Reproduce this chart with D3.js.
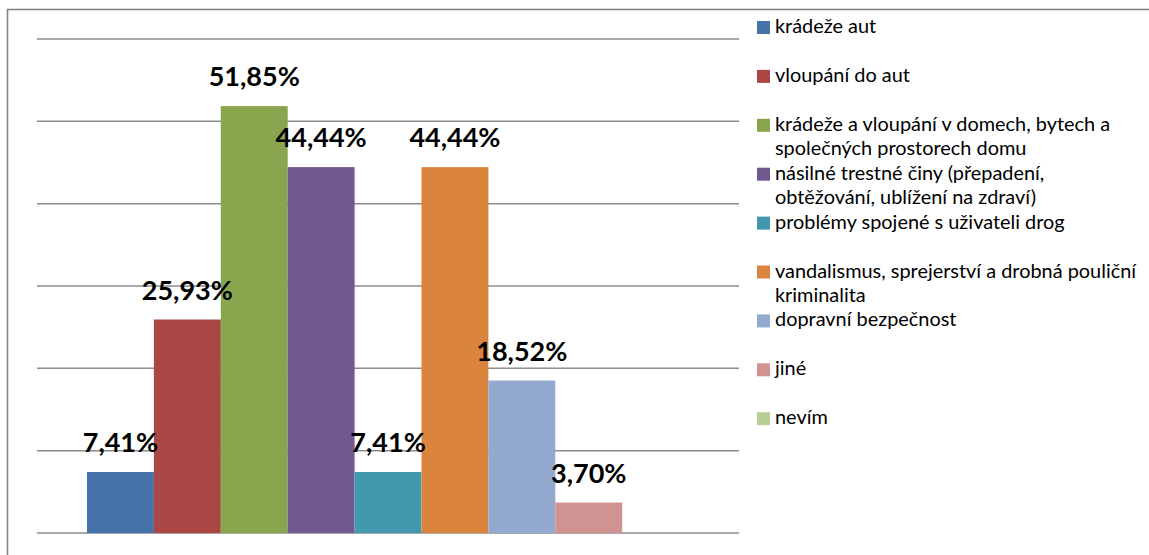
<!DOCTYPE html>
<html><head><meta charset="utf-8">
<script src="https://cdn.jsdelivr.net/npm/d3@7"></script>
<style>body{margin:0;background:#fff}svg{display:block}</style>
</head><body>
<svg id="c" width="1149" height="555"></svg>
<script>
const categories = ["krádeže aut","vloupání do aut","krádeže a vloupání v domech, bytech a společných prostorech domu","násilné trestné činy (přepadení, obtěžování, ublížení na zdraví)","problémy spojené s uživateli drog","vandalismus, sprejerství a drobná pouliční kriminalita","dopravní bezpečnost","jiné","nevím"];
const legendLines = [["krádeže aut"],["vloupání do aut"],["krádeže a vloupání v domech, bytech a","společných prostorech domu"],["násilné trestné činy (přepadení,","obtěžování, ublížení na zdraví)"],["problémy spojené s uživateli drog"],["vandalismus, sprejerství a drobná pouliční","kriminalita"],["dopravní bezpečnost"],["jiné"],["nevím"]];
const values = [7.41,25.93,51.85,44.44,7.41,44.44,18.52,3.70,0];
const labels = ["7,41%","25,93%","51,85%","44,44%","7,41%","44,44%","18,52%","3,70%",""];
const yTicks = [0,10,20,30,40,50,60];
const colors = ["#4572A7","#AA4643","#89A54E","#71588F","#4198AF","#DB843D","#93A9CF","#D19392","#B9CD96"];

const svg = d3.select("#c");
svg.append("rect").attr("x",7.5).attr("y",9.5).attr("width",1160).attr("height",600)
  .attr("fill","#fff").attr("stroke","#868686").attr("stroke-width",1.6);

const x0 = 37, x1 = 739;
const y = d3.scaleLinear().domain([0,60]).range([533,39]);
const x = d3.scaleBand().domain(categories).range([x0+50, x0+50+66.9*9]).padding(0);

svg.append("g").selectAll("line").data(yTicks).join("line")
  .attr("x1",x0).attr("x2",x1).attr("y1",d=>y(d)).attr("y2",d=>y(d))
  .attr("stroke","#8c8c8c").attr("stroke-width",1.5);

svg.append("g").selectAll("rect").data(values).join("rect")
  .attr("x",(d,i)=>x(categories[i])).attr("width",x.bandwidth())
  .attr("y",d=>y(d)).attr("height",d=>y(0)-y(d))
  .attr("fill",(d,i)=>colors[i]);

svg.append("g").selectAll("text").data(values).join("text")
  .attr("x",(d,i)=>x(categories[i])+x.bandwidth()/2)
  .attr("y",d=>y(d)-20)
  .attr("text-anchor","middle")
  .attr("font-family","Lato, 'Open Sans', sans-serif").attr("font-weight","bold")
  .attr("font-size",27).attr("fill","#000")
  .text((d,i)=>labels[i]);

const lg = svg.append("g");
legendLines.forEach((lines,i)=>{
  const by = 33 + i*48.9;
  lg.append("rect").attr("x",757).attr("y",by-12).attr("width",13).attr("height",13).attr("fill",colors[i]);
  lines.forEach((t,j)=>{
    lg.append("text").attr("x",775).attr("y",by+j*24.3)
      .attr("font-family","Lato, 'Open Sans', sans-serif").attr("font-size",19.9).attr("fill","#000")
      .text(t);
  });
});
</script>
</body></html>
